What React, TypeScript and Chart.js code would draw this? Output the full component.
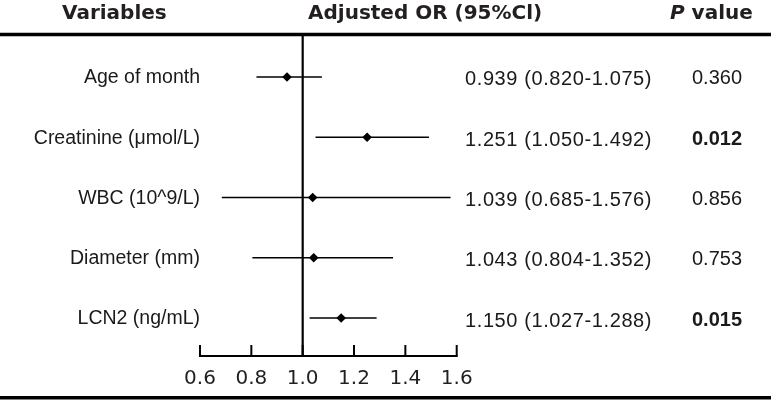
import { useEffect, useRef } from "react";
import { Chart, registerables } from "chart.js";

Chart.register(...registerables);

const variables = [
  "Age of month",
  "Creatinine (μmol/L)",
  "WBC (10^9/L)",
  "Diameter (mm)",
  "LCN2 (ng/mL)",
];
const orValues = [0.939, 1.251, 1.039, 1.043, 1.15];
const ciLow = [0.82, 1.05, 0.685, 0.804, 1.027];
const ciHigh = [1.075, 1.492, 1.576, 1.352, 1.288];
const ciLabels = [
  "0.939 (0.820-1.075)",
  "1.251 (1.050-1.492)",
  "1.039 (0.685-1.576)",
  "1.043 (0.804-1.352)",
  "1.150 (1.027-1.288)",
];
const pValues = ["0.360", "0.012", "0.856", "0.753", "0.015"];
const pSignificant = [false, true, false, false, true];
const xTicks = [0.6, 0.8, 1.0, 1.2, 1.4, 1.6];
const headerVariables = "Variables";
const headerOR = "Adjusted OR (95%Cl)";
const headerP = "P";
const headerValue = " value";

const TEXT = "#1a1a1a";
const HEAD = "#231f20";

const forestPlugin = {
  id: "forest",
  beforeDatasetsDraw(chart: any) {
    const { ctx, chartArea, scales } = chart;
    const x = scales.x;
    const line = (x0: number, y0: number, x1: number, y1: number) => {
      ctx.beginPath();
      ctx.moveTo(x0, y0);
      ctx.lineTo(x1, y1);
      ctx.stroke();
    };
    ctx.save();
    ctx.strokeStyle = "#000";
    ctx.lineCap = "butt";
    // top and bottom rules
    ctx.lineWidth = 3.5;
    line(0, 34.5, 771, 34.5);
    line(0, 397.8, 771, 397.8);
    // reference line at OR = 1
    const x1 = x.getPixelForValue(1);
    ctx.lineWidth = 2.2;
    line(x1, 34.5, x1, chartArea.bottom);
    // axis with upward ticks
    ctx.lineWidth = 2;
    const a = x.getPixelForValue(xTicks[0]);
    const b = x.getPixelForValue(xTicks[xTicks.length - 1]);
    line(a - 1, chartArea.bottom, b + 1, chartArea.bottom);
    xTicks.forEach((t) => {
      const px = x.getPixelForValue(t);
      line(px, chartArea.bottom, px, chartArea.bottom - 11);
    });
    ctx.restore();
  },
  afterDraw(chart: any) {
    const { ctx, scales } = chart;
    const x = scales.x;
    const y = scales.y;
    ctx.save();
    // headers
    ctx.fillStyle = HEAD;
    ctx.textBaseline = "alphabetic";
    ctx.textAlign = "left";
    ctx.font = "bold 20px 'DejaVu Sans'";
    ctx.fillText(headerVariables, 62, 19);
    ctx.fillText(headerOR, 308, 19);
    ctx.font = "italic bold 20px 'DejaVu Sans'";
    ctx.fillText(headerP, 670, 19);
    const pw = ctx.measureText(headerP).width;
    ctx.font = "bold 20px 'DejaVu Sans'";
    ctx.fillText(headerValue, 670 + pw, 19);

    // row texts
    ctx.fillStyle = TEXT;
    ctx.textBaseline = "middle";
    variables.forEach((v, i) => {
      const py = y.getPixelForValue(i);
      ctx.font = "19.5px 'Liberation Sans'";
      ctx.textAlign = "right";
      ctx.fillText(v, x.getPixelForValue(xTicks[0]), py + 1);
      ctx.textAlign = "left";
      ctx.font = "20px 'Liberation Sans'";
      (ctx as any).letterSpacing = "0.6px";
      ctx.fillText(ciLabels[i], 465, py + 3);
      (ctx as any).letterSpacing = "0px";
      ctx.font = pSignificant[i] ? "bold 20px 'Liberation Sans'" : "20px 'Liberation Sans'";
      ctx.fillText(pValues[i], 692, py + 2);
    });
    ctx.restore();
  },
};

export default function App() {
  const ref = useRef<HTMLCanvasElement | null>(null);
  useEffect(() => {
    if (!ref.current) return;
    const ciDatasets = variables.map((v, i) => ({
      label: v,
      data: [
        { x: ciLow[i], y: i },
        { x: ciHigh[i], y: i },
      ],
      showLine: true,
      borderColor: "#000",
      borderWidth: 1.4,
      pointRadius: 0,
      pointHoverRadius: 0,
    }));
    const chart = new Chart(ref.current, {
      type: "scatter",
      data: {
        datasets: [
          ...ciDatasets,
          {
            label: "OR",
            data: orValues.map((o, i) => ({ x: o, y: i })),
            pointStyle: "rectRot",
            pointRadius: 4.8,
            backgroundColor: "#000",
            borderColor: "#000",
            borderWidth: 0,
          },
        ],
      },
      options: {
        responsive: false,
        animation: false,
        events: [],
        layout: { padding: { left: 200, right: 319.3, top: 36, bottom: 0 } },
        plugins: { legend: { display: false }, tooltip: { enabled: false } },
        scales: {
          x: {
            type: "linear",
            min: 0.6,
            max: 1.6,
            afterBuildTicks: (s: any) => {
              s.ticks = xTicks.map((v) => ({ value: v }));
            },
            afterFit: (s: any) => {
              s.height = 54;
            },
            grid: { display: false, drawTicks: false },
            border: { display: false },
            ticks: {
              padding: 11,
              color: HEAD,
              font: { family: "'DejaVu Sans'", size: 20 },
              callback: (v: any) => Number(v).toFixed(1),
            },
          },
          y: {
            type: "linear",
            reverse: true,
            min: -0.68,
            max: 4.63,
            display: false,
          },
        },
      },
      plugins: [forestPlugin],
    });
    return () => chart.destroy();
  }, []);
  return (
    <div style={{ position: "absolute", left: 0, top: 0, width: 776, height: 410, background: "#fff" }}>
      <canvas ref={ref} width={776} height={410} />
    </div>
  );
}
